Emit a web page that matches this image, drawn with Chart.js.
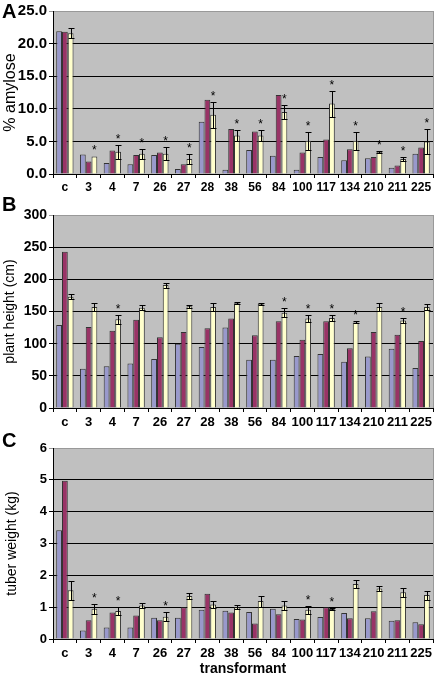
<!DOCTYPE html>
<html>
<head>
<meta charset="utf-8">
<script src="https://cdn.jsdelivr.net/npm/chart.js@4"></script>
<style>
    body { margin: 0; background: #fff; }
    canvas { position: absolute; left: 0; }
</style>
</head>
<body>
<canvas id="grafico_a" width="437" height="195" style="top:0px"></canvas>
<canvas id="grafico_b" width="437" height="235" style="top:195px"></canvas>
<canvas id="grafico_c" width="437" height="248" style="top:430px"></canvas>
<script>
var transformantes = ["c", "3", "4", "7", "26", "27", "28", "38", "56", "84", "100", "117", "134", "210", "211", "225"];

// A - % amylose
var amiloseAzul = [21.9, 3.0, 1.7, 1.5, 2.9, 0.75, 8.0, 0.65, 3.7, 2.8, 0.65, 2.6, 2.1, 2.4, 0.95, 3.1];
var amiloseVinho = [21.8, 1.9, 3.6, 2.9, 3.3, 1.5, 11.4, 6.9, 6.5, 12.1, 3.3, 5.3, 3.8, 2.6, 1.3, 4.05];
var amiloseAmarelo = [21.6, 2.7, 3.4, 3.1, 3.1, 2.3, 9.1, 5.9, 5.9, 9.5, 5.1, 10.8, 5.1, 3.4, 2.3, 5.0];
var amiloseErro = [0.8, 0, 1.1, 0.8, 1.0, 0.8, 2.0, 0.9, 0.8, 1.1, 1.4, 2.0, 1.4, 0.2, 0.3, 1.9];
var amiloseAsterisco = ["3", "4", "7", "26", "27", "28", "38", "56", "84", "100", "117", "134", "210", "211", "225"];

// B - plant height (cm)
var alturaAzul = [129, 61, 65, 69, 76, 100, 95, 125, 75, 75, 81, 84, 72, 80, 92, 62];
var alturaVinho = [243, 126, 120, 137, 110, 118, 124, 139, 113, 135, 106, 135, 93, 118, 114, 104];
var alturaAmarelo = [173, 157, 138, 156, 191, 158, 157, 163, 162, 148, 139, 140, 133, 157, 136, 157];
var alturaErro = [4, 6, 7, 4, 4, 2, 6, 1.5, 1.5, 7, 5, 5, 1.5, 6, 4, 5];
var alturaAsterisco = ["4", "84", "100", "117", "134", "211"];

// C - tuber weight (kg)
var tuberculoAzul = [3.42, 0.27, 0.36, 0.36, 0.67, 0.67, 0.92, 0.89, 0.85, 0.95, 0.63, 0.69, 0.82, 0.65, 0.57, 0.53];
var tuberculoVinho = [4.97, 0.59, 0.83, 0.74, 0.59, 1.0, 1.42, 0.83, 0.49, 0.78, 0.61, 1.0, 0.65, 0.87, 0.59, 0.46];
var tuberculoAmarelo = [1.53, 0.95, 0.88, 1.05, 0.70, 1.35, 1.08, 1.0, 1.19, 1.05, 0.92, 0.94, 1.73, 1.59, 1.47, 1.38];
var tuberculoErro = [0.3, 0.15, 0.12, 0.08, 0.15, 0.1, 0.1, 0.07, 0.17, 0.13, 0.12, 0.04, 0.13, 0.09, 0.14, 0.14];
var tuberculoAsterisco = ["3", "4", "26", "100", "117"];

var fonte = "'Liberation Sans', Arial, sans-serif";

function criarPlugin(letra, letraY, erros, asteriscos) {
    return {
        id: 'painel' + letra,
        beforeDraw: function (chart) {
            var a = chart.chartArea;
            var ctx = chart.ctx;
            ctx.save();
            ctx.fillStyle = '#C0C0C0';
            ctx.fillRect(a.left, a.top, a.right - a.left, a.bottom - a.top);
            ctx.restore();
        },
        afterDatasetsDraw: function (chart) {
            var ctx = chart.ctx;
            var escala = chart.scales.y;
            var meta = chart.getDatasetMeta(2);
            var valores = chart.data.datasets[2].data;
            ctx.save();
            ctx.strokeStyle = '#000';
            ctx.fillStyle = '#000';
            ctx.lineWidth = 1;
            ctx.font = '12px ' + fonte;
            ctx.textAlign = 'center';
            ctx.textBaseline = 'alphabetic';
            for (var i = 0; i < meta.data.length; i++) {
                var barra = meta.data[i];
                var v = valores[i];
                var e = erros[i];
                var topo = escala.getPixelForValue(v + e);
                if (e > 0) {
                    var baixo = escala.getPixelForValue(v - e);
                    var x = Math.round(barra.x) + 0.5;
                    var t = Math.round(topo) + 0.5;
                    var b = Math.round(baixo) + 0.5;
                    ctx.beginPath();
                    ctx.moveTo(x, t);
                    ctx.lineTo(x, b);
                    ctx.moveTo(x - 3, t);
                    ctx.lineTo(x + 3, t);
                    ctx.moveTo(x - 3, b);
                    ctx.lineTo(x + 3, b);
                    ctx.stroke();
                }
                if (asteriscos.indexOf(transformantes[i]) >= 0) {
                    ctx.fillText('*', barra.x, topo - 2);
                }
            }
            ctx.restore();
        },
        afterDraw: function (chart) {
            var a = chart.chartArea;
            var ctx = chart.ctx;
            ctx.save();
            ctx.strokeStyle = '#999';
            ctx.lineWidth = 1;
            ctx.beginPath();
            ctx.moveTo(Math.round(a.right) + 0.5, a.top);
            ctx.lineTo(Math.round(a.right) + 0.5, a.bottom);
            ctx.stroke();
            ctx.fillStyle = '#000';
            ctx.font = 'bold 20px ' + fonte;
            ctx.textAlign = 'left';
            ctx.fillText(letra, 2, letraY);
            ctx.restore();
        }
    };
}

function criarGrafico(id, cfg) {
    var maximo = cfg.max;
    return new Chart(document.getElementById(id).getContext('2d'), {
        type: 'bar',
        data: {
            labels: transformantes,
            datasets: [{
                data: cfg.azul,
                backgroundColor: '#9999CC',
                borderColor: '#333',
                borderWidth: 1
            }, {
                data: cfg.vinho,
                backgroundColor: '#993366',
                borderColor: '#333',
                borderWidth: 1
            }, {
                data: cfg.amarelo,
                backgroundColor: '#FFFFCC',
                borderColor: '#333',
                borderWidth: 1
            }]
        },
        options: {
            responsive: false,
            animation: false,
            devicePixelRatio: 1,
            categoryPercentage: 0.73,
            barPercentage: 1.0,
            layout: {
                padding: { top: cfg.topo, right: 4, left: 0, bottom: 0 }
            },
            plugins: {
                legend: { display: false },
                tooltip: { enabled: false }
            },
            scales: {
                x: {
                    grid: {
                        display: true,
                        drawOnChartArea: false,
                        offset: true,
                        tickLength: 4,
                        color: '#000'
                    },
                    border: { color: '#000' },
                    ticks: {
                        color: '#000',
                        padding: cfg.xPad,
                        maxRotation: 0,
                        autoSkip: false,
                        font: { family: fonte, size: cfg.xFonte, weight: 'bold' }
                    },
                    title: {
                        display: cfg.xTitulo != null,
                        text: cfg.xTitulo || '',
                        color: '#000',
                        padding: { top: 0, bottom: 0 },
                        font: { family: fonte, size: 14, weight: 'bold' }
                    },
                    afterFit: function (escala) {
                        escala.height = cfg.xAltura;
                    }
                },
                y: {
                    min: 0,
                    max: maximo,
                    ticks: {
                        stepSize: cfg.passo,
                        color: '#000',
                        padding: 2,
                        font: { family: fonte, size: cfg.yFonte, weight: 'bold' },
                        callback: cfg.formato
                    },
                    grid: {
                        tickLength: 4,
                        color: function (c) {
                            return (c.tick && c.tick.value === maximo) ? '#999' : '#000';
                        }
                    },
                    border: { color: '#000' },
                    title: {
                        display: true,
                        text: cfg.yTitulo,
                        color: '#000',
                        padding: { top: cfg.yTituloPad, bottom: 0 },
                        font: { family: fonte, size: cfg.yTituloFonte }
                    },
                    afterFit: function (escala) {
                        escala.width = 53;
                    }
                }
            }
        },
        plugins: [criarPlugin(cfg.letra, cfg.letraY, cfg.erros, cfg.asteriscos)]
    });
}

var graficoA = criarGrafico('grafico_a', {
    azul: amiloseAzul, vinho: amiloseVinho, amarelo: amiloseAmarelo,
    erros: amiloseErro, asteriscos: amiloseAsterisco,
    max: 25, passo: 5, formato: function (v) { return Number(v).toFixed(1); },
    topo: 6, xAltura: 21, xPad: 2, xFonte: 12, yFonte: 15,
    yTitulo: '% amylose', yTituloFonte: 16, yTituloPad: 1,
    letra: 'A', letraY: 18
});

var graficoB = criarGrafico('grafico_b', {
    azul: alturaAzul, vinho: alturaVinho, amarelo: alturaAmarelo,
    erros: alturaErro, asteriscos: alturaAsterisco,
    max: 300, passo: 50, formato: function (v) { return v; },
    topo: 20, xAltura: 22, xPad: 3, xFonte: 13, yFonte: 14,
    yTitulo: 'plant height (cm)', yTituloFonte: 14, yTituloPad: 2,
    letra: 'B', letraY: 16
});

var graficoC = criarGrafico('grafico_c', {
    azul: tuberculoAzul, vinho: tuberculoVinho, amarelo: tuberculoAmarelo,
    erros: tuberculoErro, asteriscos: tuberculoAsterisco,
    max: 6, passo: 1, formato: function (v) { return v; },
    topo: 18, xAltura: 39, xPad: 3, xFonte: 13, yFonte: 13,
    yTitulo: 'tuber weight (kg)', yTituloFonte: 14, yTituloPad: 4,
    xTitulo: 'transformant',
    letra: 'C', letraY: 17
});
</script>
</body>
</html>
